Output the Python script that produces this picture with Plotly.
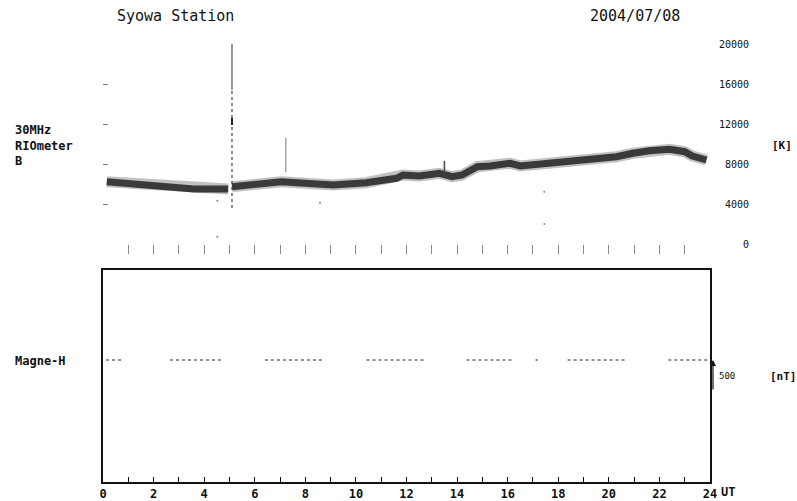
import plotly.graph_objects as go

# riometer 30MHz (K) vs UT hours
rio_t = [0.15, 1.0, 2.3, 3.6, 4.95, None, 5.1, 6.27, 7.06, 8.0, 9.1, 10.4, 11.6, 11.86,
         12.5, 13.3, 13.8, 14.2, 14.8, 15.3, 16.1, 16.5, 17.7,
         19.0, 20.3, 20.95, 21.6, 22.4, 23.0, 23.3, 23.86]
rio_k = [6230, 6070, 5730, 5500, 5500, None, 5730, 6100, 6230, 6080, 5900, 6130, 6570, 6900,
         6800, 7070, 6730, 6900, 7730, 7800, 8070, 7800, 8070,
         8330, 8730, 9070, 9330, 9470, 9230, 8800, 8400]

# spikes / stray points
spike1_t = [5.1, 5.1]
spike1_solid = [15400, 20000]
spike1_dot = [3600, 15400]
spike1_blob = [11900, 12600]
spike2_t = [7.23, 7.23]
spike2_k = [7200, 10600]
spike3_t = [13.5, 13.5]
spike3_k = [7000, 8300]
stray_t = [4.52, 4.52, 8.58, 17.45, 17.45]
stray_k = [4330, 730, 4130, 5230, 2000]

# Magne-H (nT), flat segments with gaps
mag_t = [0.12, 0.74, None, 2.65, 4.75, None, 6.4, 8.77, None, 10.42, 12.77, None,
         14.37, 16.19, None, 17.1, 17.2, None, 18.37, 20.74, None, 22.35, 24.0]
mag_h = [0, 0, None, 0, 0, None, 0, 0, None, 0, 0, None,
         0, 0, None, 0, 0, None, 0, 0, None, 0, 0]
mag_scale = 500

k_ticks = [0, 4000, 8000, 12000, 16000, 20000]
hour_ticks = list(range(0, 25))
hour_text = [str(h) if h % 2 == 0 and h < 24 else ('24' if h == 24 else '') for h in hour_ticks]

mono = "DejaVu Sans Mono"

fig = go.Figure()

fig.add_trace(go.Scatter(x=rio_t, y=rio_k, xaxis='x2', yaxis='y2', mode='lines', opacity=0.45,
                         line=dict(color='#777', width=11), hoverinfo='skip'))
fig.add_trace(go.Scatter(x=rio_t, y=rio_k, xaxis='x2', yaxis='y2', mode='lines',
                         line=dict(color='#3a3a3a', width=7), hoverinfo='skip'))
fig.add_trace(go.Scatter(x=spike1_t, y=spike1_solid, xaxis='x2', yaxis='y2', mode='lines',
                         line=dict(color='#555', width=1.2)))
fig.add_trace(go.Scatter(x=spike1_t, y=spike1_dot, xaxis='x2', yaxis='y2', mode='lines',
                         line=dict(color='#444', width=1.2, dash='dot')))
fig.add_trace(go.Scatter(x=spike1_t, y=spike1_blob, xaxis='x2', yaxis='y2', mode='lines',
                         line=dict(color='#222', width=2)))
fig.add_trace(go.Scatter(x=spike2_t, y=spike2_k, xaxis='x2', yaxis='y2', mode='lines',
                         line=dict(color='#777', width=1)))
fig.add_trace(go.Scatter(x=spike3_t, y=spike3_k, xaxis='x2', yaxis='y2', mode='lines',
                         line=dict(color='#444', width=1.5)))
fig.add_trace(go.Scatter(x=stray_t, y=stray_k, xaxis='x2', yaxis='y2', mode='markers',
                         marker=dict(color='#888', size=2)))

fig.add_trace(go.Scatter(x=mag_t, y=mag_h, xaxis='x', yaxis='y', mode='lines',
                         line=dict(color='#222', width=1, dash='3px,3px')))

annotations = []
for v in k_ticks:
    annotations.append(dict(x=1.0675, xref='paper', y=v, yref='y2', text=str(v),
                            showarrow=False, xanchor='right', yanchor='middle',
                            font=dict(family=mono, size=10, color='#111')))

annotations += [
    dict(x=0.0198, y=1.0087, xref='paper', yref='paper', text='Syowa Station', showarrow=False,
         xanchor='left', yanchor='middle', font=dict(family=mono, size=15, color='#111')),
    dict(x=0.9539, y=1.0087, xref='paper', yref='paper', text='2004/07/08', showarrow=False,
         xanchor='right', yanchor='middle', font=dict(family=mono, size=15, color='#111')),
    dict(x=-0.1483, y=0.7294, xref='paper', yref='paper', text='30MHz<br>RIOmeter<br>B',
         showarrow=False, xanchor='left', yanchor='middle', align='left',
         font=dict(family=mono, size=12, color='#111', weight='bold')),
    dict(x=-0.1483, y=0.2626, xref='paper', yref='paper', text='Magne-H', showarrow=False,
         xanchor='left', yanchor='middle', font=dict(family=mono, size=12, color='#111', weight='bold')),
    dict(x=1.0988, y=0.7294, xref='paper', yref='paper', text='[K]', showarrow=False,
         xanchor='left', yanchor='middle', font=dict(family=mono, size=11, color='#111', weight='bold')),
    dict(x=1.0956, y=0.2279, xref='paper', yref='paper', text='[nT]', showarrow=False,
         xanchor='left', yanchor='middle', font=dict(family=mono, size=11, color='#111', weight='bold')),
    dict(x=1.0, xref='paper', xshift=9, y=-0.0216, yref='paper', text='UT', showarrow=False,
         xanchor='left', yanchor='middle', font=dict(family=mono, size=12, color='#111', weight='bold')),
    dict(x=(713 - 103) / 607, xref='paper', y=0, yref='y', ax=0, ay=31, text='',
         showarrow=True, arrowhead=2, arrowsize=1, arrowwidth=1.2, arrowcolor='#111'),
    dict(x=(717 - 103) / 607, xref='paper', y=-mag_scale / 2, yref='y', text=str(mag_scale),
         showarrow=False, xanchor='left', yanchor='middle',
         font=dict(family=mono, size=9, color='#111')),
]

fig.update_layout(
    width=797, height=501,
    margin=dict(l=103, r=87, t=20, b=19),
    paper_bgcolor='white', plot_bgcolor='white',
    showlegend=False,
    xaxis=dict(domain=[0, 1], range=[0, 24], anchor='y', showline=True, mirror=True,
               linecolor='#111', linewidth=1.5, ticks='inside', ticklen=5, tickcolor='#111',
               tickvals=hour_ticks, ticktext=hour_text, showgrid=False, zeroline=False,
               automargin=False,
               tickfont=dict(family=mono, size=12, color='#111', weight='bold')),
    yaxis=dict(domain=[0, 0.45887], range=[-1968, 1452], anchor='x', showline=True, mirror=True,
               linecolor='#111', linewidth=1.5, showticklabels=False, ticks='',
               showgrid=False, zeroline=False, automargin=False),
    xaxis2=dict(domain=[0, 1], range=[0, 24], anchor='y2', showline=False, showgrid=False,
                zeroline=False, ticks='outside', ticklen=9, tickcolor='#888', automargin=False,
                tickvals=list(range(1, 24)), showticklabels=False),
    yaxis2=dict(domain=[0.51515, 0.94805], range=[0, 20000], anchor='x2', showline=False,
                showgrid=False, zeroline=False, ticks='inside', ticklen=5, tickcolor='#777',
                tickvals=k_ticks, showticklabels=False, automargin=False),
    yaxis3=dict(overlaying='y2', side='right', anchor='x2', range=[0, 20000], showline=False,
                showgrid=False, zeroline=False, ticks='inside', ticklen=6, tickcolor='#777',
                tickvals=k_ticks, showticklabels=False, automargin=False),
    annotations=annotations,
)

fig.write_html("out.html", config={'displayModeBar': False},
               post_script="document.body.style.margin='0';")
